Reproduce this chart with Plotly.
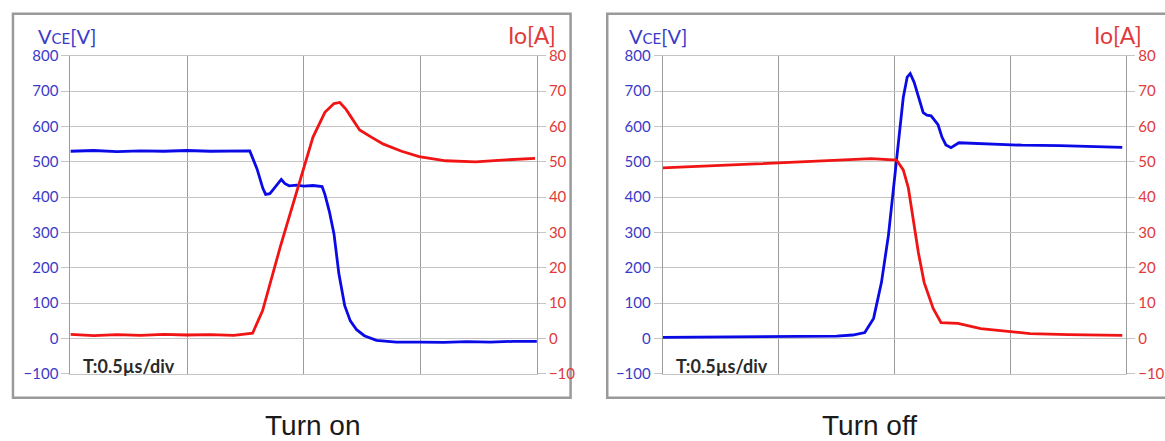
import plotly.graph_objects as go

W, H = 1165, 441

# ---- Turn on (time in µs, 0.5 µs/div) ----
on_v_t = [0.00, 0.10, 0.20, 0.30, 0.40, 0.50, 0.60, 0.70, 0.769, 0.80, 0.825, 0.837, 0.855, 0.87, 0.89, 0.904, 0.92, 0.938,
          0.97, 1.00, 1.04, 1.079, 1.091, 1.11, 1.130, 1.151, 1.176, 1.20, 1.227, 1.26, 1.312, 1.397, 1.50, 1.60, 1.70, 1.80, 1.90, 2.00]
on_v = [530, 532, 529, 531, 530, 532, 530, 531, 531, 480, 425, 408, 410, 422, 440, 450, 438, 432,
        434, 431, 433, 430, 408, 360, 296, 183, 93, 50, 25, 8, -5, -10, -10, -11, -9, -10, -8, -8]

on_i_t = [0.00, 0.10, 0.20, 0.30, 0.40, 0.50, 0.60, 0.70, 0.781, 0.824, 0.90, 0.981, 1.04, 1.091, 1.13, 1.155, 1.18, 1.20,
          1.240, 1.29, 1.342, 1.42, 1.495, 1.609, 1.737, 1.85, 1.92, 1.992]
on_i = [1.2, 0.8, 1.1, 0.9, 1.2, 1.0, 1.1, 0.9, 1.5, 7.9, 26, 43.7, 57, 64, 66.5, 66.8, 65, 63,
        59, 57, 55, 53, 51.5, 50.3, 50.0, 50.5, 50.8, 51]

# ---- Turn off ----
off_v_t = [0.00, 0.13, 0.25, 0.39, 0.50, 0.65, 0.75, 0.82, 0.872, 0.910, 0.944, 0.974, 1.000, 1.021, 1.038, 1.055, 1.068,
           1.085, 1.103, 1.124, 1.14, 1.158, 1.188, 1.205, 1.222, 1.244, 1.278, 1.35, 1.457, 1.55, 1.714, 1.85, 1.983]
off_v = [3, 4, 4, 5, 5, 6, 7, 10, 17, 57, 159, 292, 443, 568, 682, 740, 750,
         725, 682, 639, 632, 630, 605, 570, 548, 540, 554, 552, 548, 547, 546, 543, 541]

off_i_t = [0.00, 0.10, 0.25, 0.40, 0.496, 0.65, 0.803, 0.90, 1.009, 1.038, 1.060, 1.081, 1.103, 1.128, 1.167, 1.201,
           1.274, 1.372, 1.48, 1.585, 1.75, 1.983]
off_i = [48.3, 48.5, 49.0, 49.4, 49.7, 50.2, 50.8, 50.9, 50.5, 47.7, 42.6, 34.0, 24.4, 15.9, 8.5, 4.5,
         4.3, 2.8, 2.0, 1.4, 1.1, 0.9]

v_ticks = [-100, 0, 100, 200, 300, 400, 500, 600, 700, 800]
i_ticks = [-10, 0, 10, 20, 30, 40, 50, 60, 70, 80]
titles = ["Turn on", "Turn off"]
time_note = "T:0.5µs/div"

BLUE = "#0a0ae6"
RED = "#f01414"
BLUE_TXT = "#3a3ac8"
RED_TXT = "#e03a3a"
HGRID = "#c4c4c4"
VGRID = "#9c9c9c"

def px_x(p):
    return ((p + 0.1) / 0.988) / W

def px_y(p):
    return 1 - ((p - 9.2) / 0.959) / H

fig = go.Figure()
fig.add_trace(go.Scatter(x=on_v_t, y=on_v, mode="lines", line=dict(color=BLUE, width=2.8), xaxis="x", yaxis="y"))
fig.add_trace(go.Scatter(x=on_i_t, y=on_i, mode="lines", line=dict(color=RED, width=2.8), xaxis="x", yaxis="y2"))
fig.add_trace(go.Scatter(x=off_v_t, y=off_v, mode="lines", line=dict(color=BLUE, width=2.8), xaxis="x2", yaxis="y3"))
fig.add_trace(go.Scatter(x=off_i_t, y=off_i, mode="lines", line=dict(color=RED, width=2.8), xaxis="x2", yaxis="y4"))

ydom = [px_y(373), px_y(55)]
xdoms = [[px_x(71), px_x(542)], [px_x(669), px_x(1137)]]

tickfont_b = dict(family="Lato, sans-serif", size=15, color=BLUE_TXT)
tickfont_r = dict(family="Lato, sans-serif", size=15, color=RED_TXT)

def xaxis(dom, anchor):
    return dict(domain=dom, anchor=anchor, range=[0, 2], tickvals=[0, 0.5, 1, 1.5, 2], showticklabels=False,
                showgrid=True, gridcolor=VGRID, gridwidth=1, zeroline=False,
                showline=True, mirror=True, linecolor=HGRID, linewidth=1, ticks="", fixedrange=True)

def yleft(anchor):
    return dict(domain=ydom, anchor=anchor, range=[-100, 800], tickvals=v_ticks, showgrid=True, gridcolor=HGRID,
                gridwidth=1, zeroline=False, showline=True, mirror=True, linecolor=VGRID, linewidth=1,
                ticks="outside", ticklen=8, tickcolor=HGRID, tickfont=tickfont_b, fixedrange=True)

def yright(over, anchor):
    return dict(overlaying=over, anchor=anchor, side="right", range=[-10, 80], tickvals=i_ticks, showgrid=False,
                zeroline=False, showline=False, ticks="outside", ticklen=8, tickcolor=HGRID,
                tickfont=tickfont_r, fixedrange=True)

annotations = []
shapes = []
frames = [(13, 576), (613, 1185)]
vce_x = [36, 633]
io_x = [563, 1155]
note_x = [82, 680]
title_cx = [315, 878]
for k in range(2):
    x0, x1 = frames[k]
    shapes.append(dict(type="rect", xref="paper", yref="paper", x0=px_x(x0), x1=px_x(x1), y0=px_y(397), y1=px_y(13),
                       line=dict(color="#9a9a9a", width=2.5), layer="below"))
    annotations.append(dict(text="V<span style='font-size:15px'>CE</span>[V]", xref="paper", yref="paper",
                            x=px_x(vce_x[k]), y=px_y(35), xanchor="left", yanchor="middle", showarrow=False,
                            font=dict(family="Lato, sans-serif", size=20, color=BLUE_TXT)))
    annotations.append(dict(text="Io[A]", xref="paper", yref="paper", x=px_x(io_x[k]), y=px_y(34),
                            xanchor="right", yanchor="middle", showarrow=False,
                            font=dict(family="Lato, sans-serif", size=23, color=RED_TXT)))
    annotations.append(dict(text="<b>" + time_note + "</b>", xref="paper", yref="paper", x=px_x(note_x[k]),
                            y=px_y(365), xanchor="left", yanchor="middle", showarrow=False,
                            font=dict(family="Lato, sans-serif", size=18, color="#2a2a2a")))
    annotations.append(dict(text=titles[k], xref="paper", yref="paper", x=px_x(title_cx[k]), y=px_y(425),
                            xanchor="center", yanchor="middle", showarrow=False,
                            font=dict(family="Liberation Sans, Arial, sans-serif", size=28, color="#1a1a1a")))

fig.update_layout(
    width=W, height=H, margin=dict(l=0, r=0, t=0, b=0),
    paper_bgcolor="white", plot_bgcolor="white", showlegend=False,
    xaxis=xaxis(xdoms[0], "y"), yaxis=yleft("x"), yaxis2=yright("y", "x"),
    xaxis2=xaxis(xdoms[1], "y3"), yaxis3=yleft("x2"), yaxis4=yright("y3", "x2"),
    annotations=annotations, shapes=shapes,
)

fig.write_html("out.html")
